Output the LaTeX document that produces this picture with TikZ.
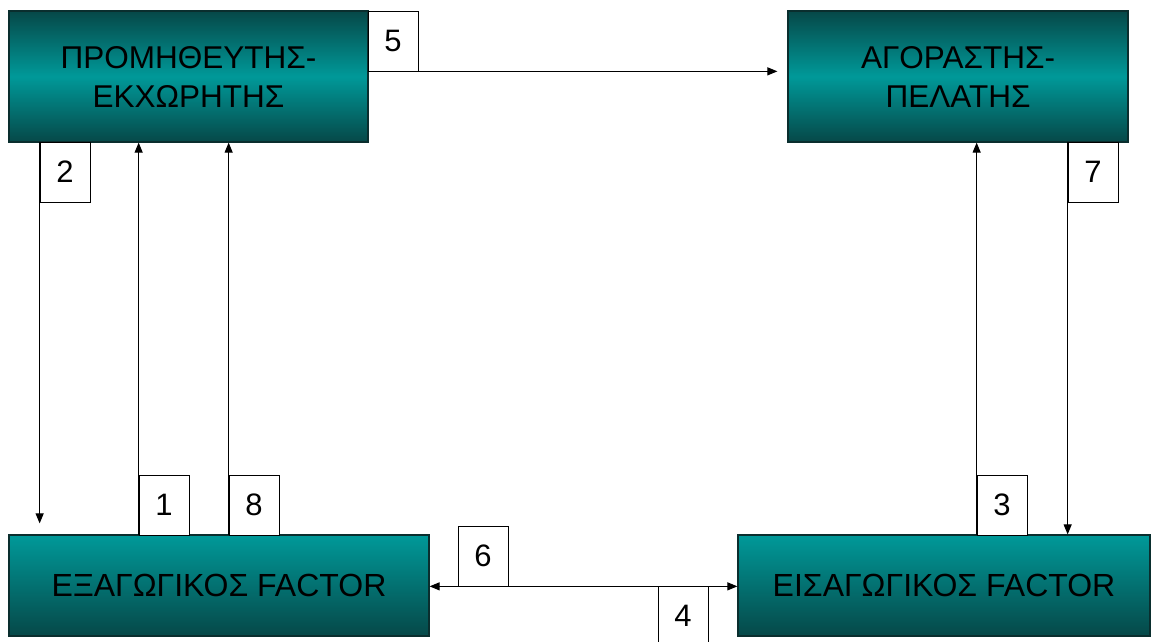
\documentclass[tikz,border=0pt]{standalone}
\usepackage{fontspec}
\setmainfont{Liberation Sans}
\usetikzlibrary{arrows.meta}
\definecolor{tealdark}{HTML}{064848}
\definecolor{tealmid}{HTML}{009999}
\definecolor{edgecol}{HTML}{0A2E2E}
\tikzset{
  party/.style={draw=edgecol, line width=1.2pt, inner sep=0pt, align=center,
    font=\fontsize{31.5}{39}\selectfont, text=black,
    top color=tealdark, bottom color=tealdark, middle color=tealmid},
  factor/.style={draw=edgecol, line width=1.2pt, inner sep=0pt, align=center,
    font=\fontsize{32}{38}\selectfont, text=black,
    top color=tealmid, bottom color=tealdark},
  tag/.style={draw=black, line width=0.7pt, fill=white, inner sep=0pt,
    minimum width=50pt, minimum height=60pt, font=\fontsize{31}{36}\selectfont},
  flow/.style={line width=1.1pt, -{Triangle[length=10pt,width=8pt]}},
  twoway/.style={line width=1.1pt, {Triangle[length=10pt,width=8pt]}-{Triangle[length=10pt,width=8pt]}}
}
\begin{document}
\begin{tikzpicture}[x=1pt,y=-1pt]
\useasboundingbox (0,0) rectangle (1153,641);

% parties
\node[party, minimum width=359pt, minimum height=131pt] (A) at (188.5,76.5) {ΠΡΟΜΗΘΕΥΤΗΣ-\\ΕΚΧΩΡΗΤΗΣ};
\node[party, minimum width=340pt, minimum height=131pt] (B) at (958,76.5) {ΑΓΟΡΑΣΤΗΣ-\\ΠΕΛΑΤΗΣ};
\node[factor, minimum width=420pt, minimum height=101pt] (C) at (219,585.5) {ΕΞΑΓΩΓΙΚΟΣ FACTOR};
\node[factor, minimum width=412pt, minimum height=101pt] (D) at (944,585.5) {ΕΙΣΑΓΩΓΙΚΟΣ FACTOR};

% step numbers
\node[tag] (t5) at (393,41) {5};
\node[tag] (t2) at (65,172) {2};
\node[tag] (t1) at (164,505) {1};
\node[tag] (t8) at (254,505) {8};
\node[tag] (t7) at (1093,172) {7};
\node[tag] (t3) at (1002,505) {3};
\node[tag] (t6) at (483,556) {6};
\node[tag] (t4) at (683,616) {4};

% flows
\draw[flow, shorten >=10pt] (A.east |- t5.south) -- (B.west |- t5.south);
\draw[flow, shorten >=11pt] (t2.north west) -- (t2.west |- C.north);
\draw[flow] (t1.south west) -- (t1.west |- A.south);
\draw[flow] (t8.south west) -- (t8.west |- A.south);
\draw[flow] (t3.south west) -- (t3.west |- B.south);
\draw[flow] (t7.north west) -- (t7.west |- D.north);
\draw[twoway] (C.east |- t6.south) -- (D.west |- t6.south);
\end{tikzpicture}
\end{document}
